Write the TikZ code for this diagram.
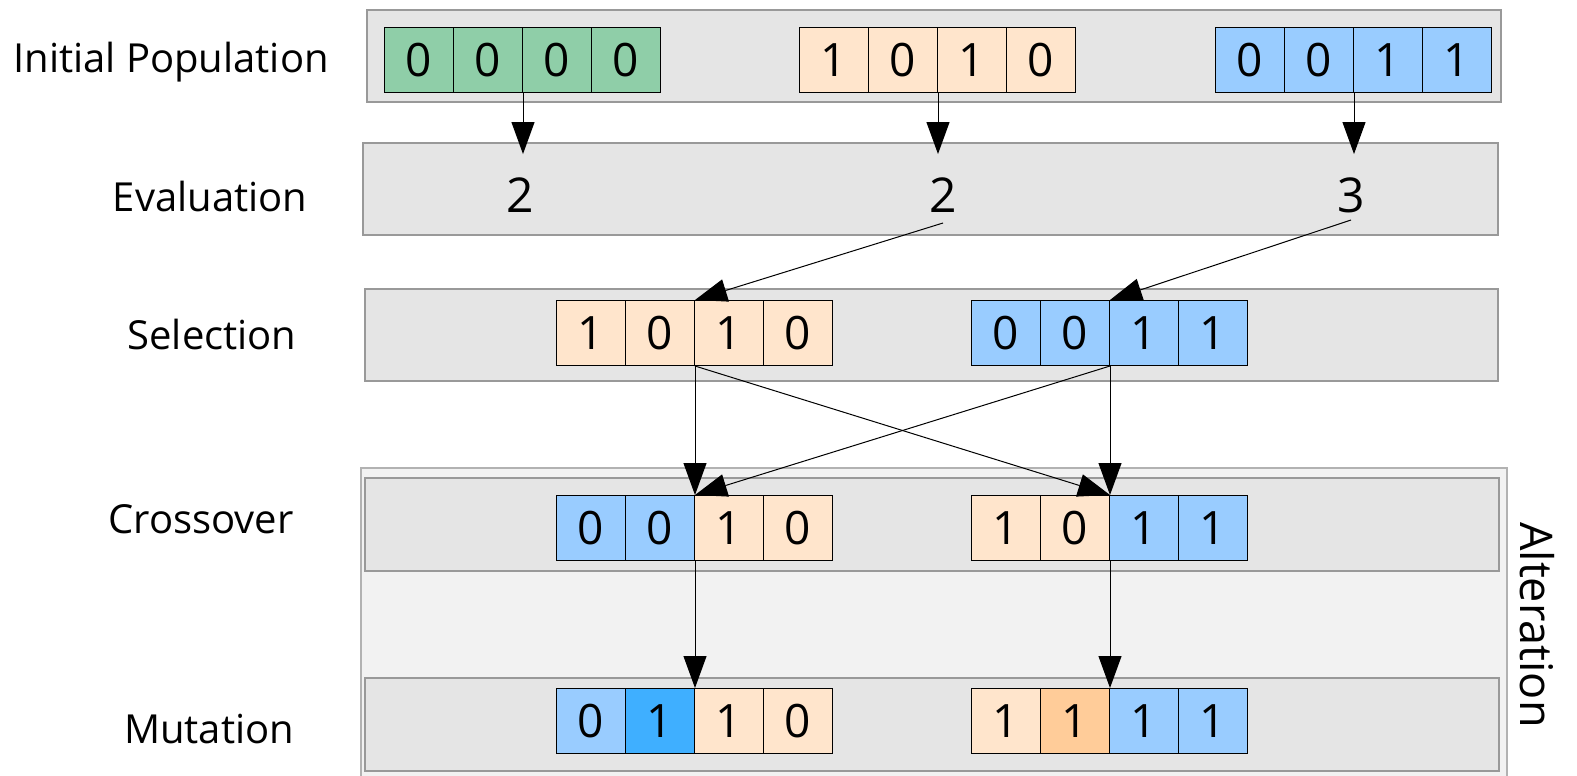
\documentclass[tikz,border=0pt]{standalone}
\usepackage{fontspec}
\setmainfont{Open Sans}
\usetikzlibrary{arrows.meta}

\definecolor{genegreen}{HTML}{8FCEA8}
\definecolor{geneorange}{HTML}{FFE5CC}
\definecolor{geneblue}{HTML}{99CCFF}
\definecolor{mutblue}{HTML}{3FAFFF}
\definecolor{mutorange}{HTML}{FFCC99}

\tikzset{
	band/.style={draw=gray!80, fill=gray!20, line width=1.5pt},
	gene/.style={draw=black, line width=1pt, minimum width=69pt, minimum height=65pt, inner sep=0pt, anchor=north west, font=\fontsize{46}{46}\selectfont},
	stage/.style={anchor=base, inner sep=0pt, font=\fontsize{40}{40}\selectfont},
	score/.style={anchor=base, inner xsep=0pt, inner ysep=23pt, font=\fontsize{48}{48}\selectfont},
	flow/.style={-{Triangle[length=32pt,width=23pt]}, line width=1pt},
}

\begin{document}
\begin{tikzpicture}[x=1pt,y=-1pt]

	\useasboundingbox (0,0) rectangle (1577,776);

	% alteration frame
	\draw[draw=gray!60, fill=gray!10, line width=1.5pt] (361,468) rectangle (1507,790);
	\node[rotate=-90, anchor=base, inner sep=0pt, font=\fontsize{45}{45}\selectfont] (alteration) at (1520,625) {Alteration};

	% stage bands
	\draw[band] (367,10) rectangle (1501,102);
	\draw[band] (363,143) rectangle (1498,235);
	\draw[band] (365,289) rectangle (1498,381);
	\draw[band] (365,478) rectangle (1499,571);
	\draw[band] (365,678) rectangle (1499,771);

	\node[stage] (lab-ini) at (171,73) {Initial Population};
	\node[stage] (lab-eva) at (210,211) {Evaluation};
	\node[stage] (lab-sel) at (212,349) {Selection};
	\node[stage] (lab-cro) at (201,533) {Crossover};
	\node[stage] (lab-mut) at (209,743) {Mutation};

	% initial population
	\foreach \d [count=\i] in {0,0,0,0}
		\node[gene, fill=genegreen] (ini-a-\i) at (384+69*\i-69,27) {\d};
	\foreach \d [count=\i] in {1,0,1,0}
		\node[gene, fill=geneorange] (ini-b-\i) at (799+69*\i-69,27) {\d};
	\foreach \d [count=\i] in {0,0,1,1}
		\node[gene, fill=geneblue] (ini-c-\i) at (1215+69*\i-69,27) {\d};

	% evaluation
	\node[score] (eva-a) at (520,212) {2};
	\node[score] (eva-b) at (943,212) {2};
	\node[score] (eva-c) at (1351,212) {3};

	% selection
	\foreach \d [count=\i] in {1,0,1,0}
		\node[gene, fill=geneorange] (sel-a-\i) at (556+69*\i-69,300) {\d};
	\foreach \d [count=\i] in {0,0,1,1}
		\node[gene, fill=geneblue] (sel-b-\i) at (971+69*\i-69,300) {\d};

	% crossover
	\foreach \d/\c [count=\i] in {0/geneblue,0/geneblue,1/geneorange,0/geneorange}
		\node[gene, fill=\c] (cro-a-\i) at (556+69*\i-69,495) {\d};
	\foreach \d/\c [count=\i] in {1/geneorange,0/geneorange,1/geneblue,1/geneblue}
		\node[gene, fill=\c] (cro-b-\i) at (971+69*\i-69,495) {\d};

	% mutation
	\foreach \d/\c [count=\i] in {0/geneblue,1/mutblue,1/geneorange,0/geneorange}
		\node[gene, fill=\c] (mut-a-\i) at (556+69*\i-69,688) {\d};
	\foreach \d/\c [count=\i] in {1/geneorange,1/mutorange,1/geneblue,1/geneblue}
		\node[gene, fill=\c] (mut-b-\i) at (971+69*\i-69,688) {\d};

	% arrows
	\draw[flow] (ini-a-2.south east) -- (ini-a-2.south east |- eva-a.north);
	\draw[flow] (ini-b-2.south east) -- (ini-b-2.south east |- eva-b.north);
	\draw[flow] (ini-c-2.south east) -- (ini-c-2.south east |- eva-c.north);

	\draw[flow] ([yshift=-11pt]eva-b.base) -- (sel-a-2.north east);
	\draw[flow] ([yshift=-8pt]eva-c.base) -- (sel-b-2.north east);

	\draw[flow] (sel-a-2.south east) -- (cro-a-2.north east);
	\draw[flow] (sel-a-2.south east) -- (cro-b-2.north east);
	\draw[flow] (sel-b-2.south east) -- (cro-b-2.north east);
	\draw[flow] (sel-b-2.south east) -- (cro-a-2.north east);

	\draw[flow] (cro-a-2.south east) -- (mut-a-2.north east);
	\draw[flow] (cro-b-2.south east) -- (mut-b-2.north east);

\end{tikzpicture}
\end{document}
